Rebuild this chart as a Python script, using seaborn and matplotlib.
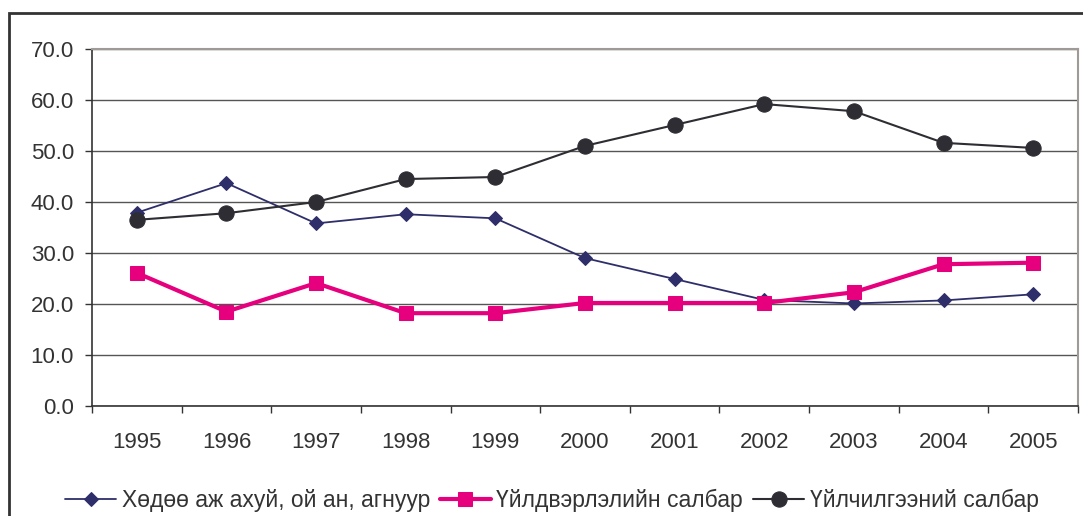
import matplotlib
matplotlib.use('Agg')
import matplotlib.pyplot as plt
import seaborn as sns
import pandas as pd
from matplotlib.patches import Rectangle

# data
years = [1995, 1996, 1997, 1998, 1999, 2000, 2001, 2002, 2003, 2004, 2005]
agri = [37.9, 43.7, 35.8, 37.6, 36.8, 29.0, 24.9, 20.8, 20.1, 20.7, 21.9]
industry = [26.1, 18.5, 24.1, 18.2, 18.2, 20.2, 20.2, 20.2, 22.3, 27.8, 28.1]
services = [36.5, 37.8, 40.0, 44.5, 44.9, 51.0, 55.1, 59.2, 57.8, 51.6, 50.6]

names = ['Хөдөө аж ахуй, ой ан, агнуур', 'Үйлдвэрлэлийн салбар', 'Үйлчилгээний салбар']
y_ticks = [0, 10, 20, 30, 40, 50, 60, 70]

sns.set_style('white')
plt.rcParams['font.family'] = ['Liberation Sans', 'DejaVu Sans']
text_col = '#333333'

fig = plt.figure(figsize=(10.83, 5.16), dpi=100)
ax = fig.add_axes([92 / 1083, 1 - 406 / 516, (1078 - 92) / 1083, (406 - 49) / 516])

df = pd.DataFrame({'year': years, 'agri': agri, 'industry': industry, 'services': services})

sns.lineplot(data=df, x='year', y='agri', ax=ax, color='#2e2e6a', linewidth=1.3,
             marker='D', markersize=7, markeredgecolor='#2e2e6a', label=names[0])
sns.lineplot(data=df, x='year', y='industry', ax=ax, color='#e6007e', linewidth=3,
             marker='s', markersize=10, markeredgecolor='#e6007e', label=names[1])
sns.lineplot(data=df, x='year', y='services', ax=ax, color='#2d2d33', linewidth=1.5,
             marker='o', markersize=11, markeredgecolor='#2d2d33', label=names[2])

ax.set_xlim(years[0] - 0.5, years[-1] + 0.5)
ax.set_ylim(0, 70)
ax.set_yticks(y_ticks)
ax.set_yticklabels(['%.1f' % v for v in y_ticks])
ax.set_xticks(years)
ax.set_xticklabels([str(y) for y in years])
ax.set_xticks([y - 0.5 for y in years] + [years[-1] + 0.5], minor=True)
ax.set_xlabel('')
ax.set_ylabel('')

ax.grid(axis='y', color='#555555', linewidth=1)
ax.grid(axis='x', visible=False)
ax.set_axisbelow(True)

ax.tick_params(axis='y', which='major', direction='out', length=5, width=1,
               color='#333333', pad=8, labelsize=16, labelcolor=text_col, left=True)
ax.tick_params(axis='x', which='major', length=0, pad=19, labelsize=16, labelcolor=text_col)
ax.tick_params(axis='x', which='minor', direction='out', length=5, width=1,
               color='#333333', bottom=True)

for side in ['left', 'bottom']:
    ax.spines[side].set_color('#333333')
    ax.spines[side].set_linewidth(1.2)
for side in ['top', 'right']:
    ax.spines[side].set_color('#a09a96')
    ax.spines[side].set_linewidth(1.5)

ax.legend(loc='center', bbox_to_anchor=(552 / 1083, 1 - 500 / 516),
          bbox_transform=fig.transFigure, ncol=3, frameon=False, fontsize=16.5,
          handlelength=2.2, handletextpad=0.25, columnspacing=0.45,
          labelcolor=text_col)

# outer chart border
fig.patches.append(Rectangle((9 / 1083, -0.05), 1.1, 1 - 13 / 516 + 0.05,
                             transform=fig.transFigure, fill=False,
                             edgecolor='#333333', linewidth=2))

fig.savefig('out.png', dpi=100)
